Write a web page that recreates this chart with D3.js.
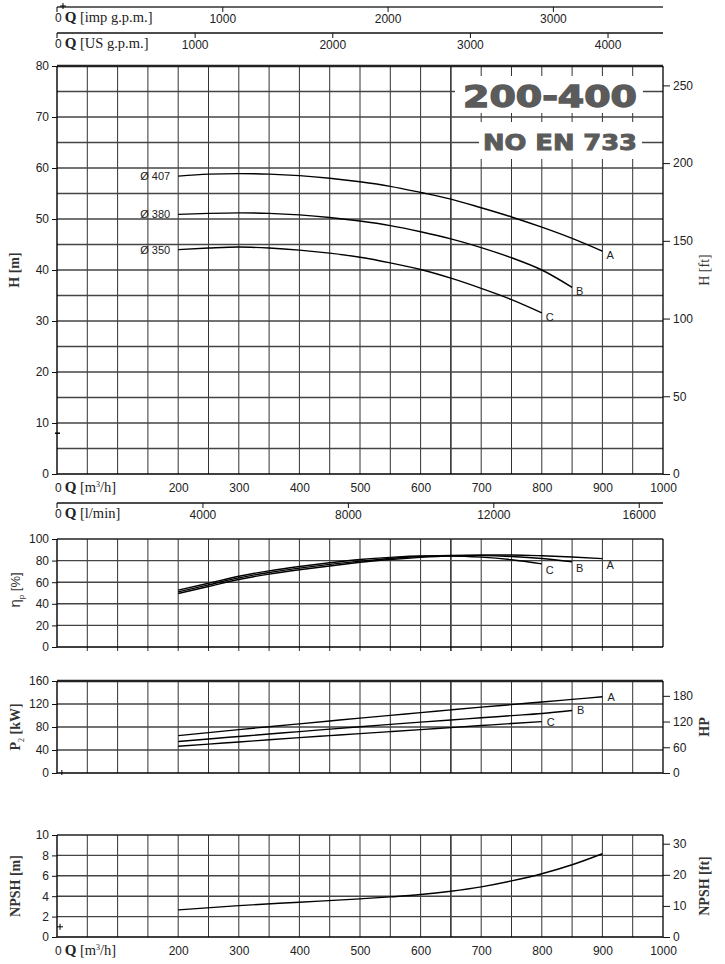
<!DOCTYPE html>
<html><head><meta charset="utf-8">
<script src="https://cdn.jsdelivr.net/npm/d3@7"></script>
<style>
body{margin:0;background:#fff}
svg{display:block}
text{font-family:"Liberation Sans",Arial,sans-serif}
.serif{font-family:"Liberation Serif","DejaVu Serif",serif}
</style>
</head><body>
<svg id="c" width="725" height="964"></svg>
<script>
// ---------------- data ----------------
const flowTickLabels = [200,300,400,500,600,700,800,900,1000];
const impTicks = [1000,2000,3000];
const usTicks = [1000,2000,3000,4000];
const lminTicks = [4000,8000,12000,16000];
const hTicks = [0,10,20,30,40,50,60,70,80];
const hFtTicks = [0,50,100,150,200,250];
const effTicks = [0,20,40,60,80,100];
const pTicks = [0,40,80,120,160];
const hpTicks = [0,60,120,180];
const npshTicks = [0,2,4,6,8,10];
const npshFtTicks = [0,10,20,30];

const curveNames = ["A","B","C"];
const impellers = ["Ø 407","Ø 380","Ø 350"];

const qA = [200,250,300,350,400,450,500,550,600,650,700,750,800,850,900];
const qB = [200,250,300,350,400,450,500,550,600,650,700,750,800,850];
const qC = [200,250,300,350,400,450,500,550,600,650,700,750,800];

const headA = [58.4,58.8,58.9,58.8,58.5,58.0,57.3,56.4,55.2,53.9,52.2,50.4,48.4,46.2,43.7];
const headB = [50.9,51.1,51.2,51.1,50.8,50.3,49.6,48.7,47.5,46.1,44.4,42.4,40.0,36.6];
const headC = [44.0,44.3,44.5,44.3,43.9,43.3,42.5,41.4,40.1,38.4,36.4,34.2,31.6];

const effA = [49.5,56,62.5,67.5,71.5,75,78.5,81,83,84.5,85.2,85.2,84.5,83.3,81.8];
const effB = [51,57.5,64,69,73,76.5,79.5,82,83.8,84.7,84.6,83.8,82,78.8];
const effC = [52.7,59,65.5,70.5,74.5,78,81,83,84.2,84.3,83.2,80.8,77];

const powA = [65,70.3,75.5,80.5,85.5,90.5,95.5,100.3,105,109.8,114.5,119,123.5,128,132.5];
const powB = [54.8,59.2,63.5,67.8,72,76.3,80.5,84.5,88.5,92.3,96,99.8,103.5,108.7];
const powC = [46.5,50.3,54,57.8,61.5,65,68.5,72,75.5,79,82.5,86,89.4];

const qN = [200,300,400,500,550,600,650,700,750,800,850,900];
const npsh = [2.66,3.08,3.41,3.74,3.93,4.16,4.49,4.92,5.5,6.2,7.08,8.16];

// unit conversions for secondary axes
const M_TO_FT = 3.2808, KW_PER_HP = 0.7457, IMP_GPM = 3.6662, US_GPM = 4.4029, L_MIN = 16.6667;

// ---------------- scales ----------------
const svg = d3.select("#c");
const X0 = 57, X1 = 663;
const x = d3.scaleLinear().domain([0,1000]).range([X0,X1]);
const xImp = d3.scaleLinear().domain([0,1000*IMP_GPM]).range([X0,X1]);
const xUS = d3.scaleLinear().domain([0,1000*US_GPM]).range([X0,X1]);
const xL = d3.scaleLinear().domain([0,1000*L_MIN]).range([X0,X1]);

const yH = d3.scaleLinear().domain([0,80]).range([474,66]);
const yHft = d3.scaleLinear().domain([0,80*M_TO_FT]).range([474,66]);
const yE = d3.scaleLinear().domain([0,100]).range([647,539]);
const yP = d3.scaleLinear().domain([0,160]).range([773,681]);
const yHP = d3.scaleLinear().domain([0,160/KW_PER_HP]).range([773,681]);
const yN = d3.scaleLinear().domain([0,10]).range([937,835]);
const yNft = d3.scaleLinear().domain([0,10*M_TO_FT]).range([937,835]);

svg.append("rect").attr("width",725).attr("height",964).attr("fill","#fff");

// ---------------- helpers ----------------
function styleAxis(g, fs){
  g.select(".domain").remove();
  g.selectAll(".tick line").attr("stroke","#111").attr("stroke-width",1);
  g.selectAll(".tick text").attr("fill","#222").style("font-size",(fs||12)+"px")
    .style("font-family","'Liberation Sans',Arial,sans-serif");
}

function panel(y, gridVals, opts){
  const g = svg.append("g");
  const [yb, yt] = y.range();
  const ext = opts.ext || 0;
  g.selectAll("line.v").data(d3.range(50,1000,50)).join("line")
    .attr("x1",d=>x(d)).attr("x2",d=>x(d))
    .attr("y1",yt).attr("y2",yb+ext)
    .attr("stroke",d=>d===650?"#000":"#333").attr("stroke-width",d=>d===650?1.3:1);
  const inner = gridVals.filter(v=>v>y.domain()[0] && v<y.domain()[1]);
  g.selectAll("line.h").data(inner).join("line")
    .attr("x1",X0).attr("x2",X1).attr("y1",d=>y(d)).attr("y2",d=>y(d))
    .attr("stroke","#444").attr("stroke-width",1.4);
  g.append("line").attr("x1",X0).attr("x2",X1).attr("y1",yt).attr("y2",yt)
    .attr("stroke","#222").attr("stroke-width",opts.thickTop?2.4:1.4);
  g.append("line").attr("x1",X0).attr("x2",X1).attr("y1",yb).attr("y2",yb)
    .attr("stroke","#000").attr("stroke-width",1.5);
  g.append("line").attr("x1",X0).attr("x2",X0).attr("y1",yt).attr("y2",yb)
    .attr("stroke","#000").attr("stroke-width",1.4);
  g.append("line").attr("x1",X1).attr("x2",X1).attr("y1",yt).attr("y2",yb)
    .attr("stroke","#000").attr("stroke-width",1.3);
  const la = svg.append("g").attr("transform",`translate(${X0},0)`)
    .call(d3.axisLeft(y).tickValues(opts.left).tickSize(5).tickPadding(3).tickFormat(d3.format("d")));
  styleAxis(la);
  if(opts.right){
    const ra = svg.append("g").attr("transform",`translate(${X1},0)`)
      .call(d3.axisRight(opts.right.scale).tickValues(opts.right.ticks).tickSize(7).tickPadding(3).tickFormat(d3.format("d")));
    styleAxis(ra);
  }
  return g;
}

function drawCurve(qs, vals, y){
  const pts = qs.map((q,i)=>[q,vals[i]]);
  svg.append("path").datum(pts)
    .attr("d", d3.line().x(d=>x(d[0])).y(d=>y(d[1])).curve(d3.curveMonotoneX))
    .attr("fill","none").attr("stroke","#000").attr("stroke-width",1.4);
  return pts[pts.length-1];
}

function endLabel(pt, y, name, dx, dy){
  svg.append("text").attr("x",x(pt[0])+dx).attr("y",y(pt[1])+dy)
    .attr("fill","#222").style("font-size","11px").text(name);
}

function rotLabel(xp, yp, parts){
  const t = svg.append("text").attr("transform",`translate(${xp},${yp}) rotate(-90)`)
    .attr("text-anchor","middle").attr("fill","#333");
  parts.forEach(p=>{
    const s = t.append("tspan").text(p.t);
    if(p.serif) s.attr("class","serif");
    s.style("font-size",(p.fs||13)+"px").style("font-weight",p.b?"bold":"normal");
    if(p.dy) s.attr("dy",p.dy);
  });
  return t;
}

function qTitle(xp, yp, unitParts){
  const t = svg.append("text").attr("x",xp).attr("y",yp).attr("fill","#222");
  t.append("tspan").text("0").style("font-size","12px");
  t.append("tspan").attr("class","serif").attr("dx",3).text("Q").style("font-size","15px").style("font-weight","bold");
  unitParts.forEach(p=>{
    const s = t.append("tspan").attr("class","serif").text(p.t).style("font-size",(p.fs||14.5)+"px");
    if(p.dy) s.attr("dy",p.dy);
  });
}

// ---------------- H panel ----------------
panel(yH, d3.range(0,81,5), {left:hTicks, right:{scale:yHft, ticks:hFtTicks}, thickTop:true});
svg.append("line").attr("x1",X0-2).attr("x2",X0+3).attr("y1",yH(8)).attr("y2",yH(8)).attr("stroke","#000").attr("stroke-width",1.5);

const headSeries = [[qA,headA],[qB,headB],[qC,headC]];
headSeries.forEach((s,i)=>{
  const end = drawCurve(s[0], s[1], yH);
  endLabel(end, yH, curveNames[i], 4, 8);
  svg.append("text").attr("x",x(s[0][0])-38).attr("y",yH(s[1][0])+4)
    .attr("fill","#222").style("font-size","11px").text(impellers[i]);
});

// title boxes
svg.append("rect").attr("x",455).attr("y",76).attr("width",188).attr("height",37).attr("fill","#fff");
svg.append("rect").attr("x",479).attr("y",122).attr("width",163).attr("height",37).attr("fill","#fff");
svg.append("text").attr("x",550).attr("y",107).attr("text-anchor","middle")
  .attr("textLength",174).attr("lengthAdjust","spacingAndGlyphs")
  .style("font-family","'DejaVu Sans',sans-serif").style("font-weight","bold").style("font-size","30px")
  .attr("fill","#5b5b5b").attr("stroke","#5b5b5b").attr("stroke-width",1.4).text("200-400");
svg.append("text").attr("x",560).attr("y",150).attr("text-anchor","middle")
  .attr("textLength",154).attr("lengthAdjust","spacingAndGlyphs")
  .style("font-family","'DejaVu Sans',sans-serif").style("font-weight","bold").style("font-size","22px")
  .attr("fill","#5b5b5b").attr("stroke","#5b5b5b").attr("stroke-width",1).text("NO EN 733");

// flow axes
function flowAxis(scale, ticks, yPos, color, w){
  svg.append("line").attr("x1",X0).attr("x2",X1).attr("y1",yPos).attr("y2",yPos)
    .attr("stroke",color).attr("stroke-width",w);
  svg.append("line").attr("x1",X0).attr("x2",X0).attr("y1",yPos).attr("y2",yPos+5)
    .attr("stroke","#000").attr("stroke-width",1);
  const a = svg.append("g").attr("transform",`translate(0,${yPos})`)
    .call(d3.axisBottom(scale).tickValues(ticks).tickSize(5).tickPadding(2).tickFormat(d3.format("d")));
  styleAxis(a);
}
flowAxis(xImp, impTicks, 7, "#666", 2.2);
flowAxis(xUS, usTicks, 33, "#111", 1.4);
qTitle(55, 22, [{t:" [imp g.p.m.]"}]);
qTitle(55, 48, [{t:" [US g.p.m.]"}]);
svg.append("path").attr("d",`M${X0+3},6h6M${X0+6},3v6`).attr("stroke","#000").attr("stroke-width",1);

const bH = svg.append("g").attr("transform",`translate(0,474)`)
  .call(d3.axisBottom(x).tickValues(flowTickLabels).tickSize(0).tickPadding(9).tickFormat(d3.format("d")));
styleAxis(bH);
qTitle(55, 492, [{t:" [m"},{t:"3",fs:8,dy:-5},{t:"/h]",dy:5}]);
flowAxis(xL, lminTicks, 503, "#111", 1.4);
qTitle(55, 518, [{t:" [l/min]"}]);

rotLabel(19, 270, [{t:"H [m]",serif:true,b:true,fs:14}]);
rotLabel(709, 270, [{t:"H [ft]",serif:true,fs:14}]);

// ---------------- efficiency panel ----------------
panel(yE, effTicks, {left:effTicks, ext:4});
const effSeries = [[qA,effA],[qB,effB],[qC,effC]];
effSeries.forEach((s,i)=>{
  const end = drawCurve(s[0], s[1], yE);
  endLabel(end, yE, curveNames[i], 4, 10);
});
rotLabel(20, 590, [{t:"η",fs:15},{t:"p",fs:8,dy:4},{t:" [%]",fs:13,dy:-4}]);

// ---------------- power panel ----------------
panel(yP, pTicks, {left:pTicks, right:{scale:yHP, ticks:hpTicks}, thickTop:true});
const powSeries = [[qA,powA],[qB,powB],[qC,powC]];
powSeries.forEach((s,i)=>{
  const end = drawCurve(s[0], s[1], yP);
  endLabel(end, yP, curveNames[i], 5, 4);
});
svg.append("line").attr("x1",x(8)).attr("x2",x(8)).attr("y1",yP(0)-3).attr("y2",yP(0)+2).attr("stroke","#000");
rotLabel(20, 727, [{t:"P",serif:true,b:true,fs:14},{t:"2",serif:true,fs:8,dy:4},{t:" [kW]",serif:true,b:true,fs:14,dy:-4}]);
rotLabel(709, 727, [{t:"HP",serif:true,b:true,fs:14}]);

// ---------------- NPSH panel ----------------
panel(yN, npshTicks, {left:npshTicks, right:{scale:yNft, ticks:npshFtTicks}});
drawCurve(qN, npsh, yN);
svg.append("path").attr("d",`M${x(5)-3},${yN(1)}h6M${x(5)},${yN(1)-3}v6`).attr("stroke","#000").attr("stroke-width",1);
const bN = svg.append("g").attr("transform",`translate(0,937)`)
  .call(d3.axisBottom(x).tickValues(flowTickLabels).tickSize(0).tickPadding(9).tickFormat(d3.format("d")));
styleAxis(bN);
qTitle(55, 955, [{t:" [m"},{t:"3",fs:8,dy:-5},{t:"/h]",dy:5}]);
rotLabel(20, 886, [{t:"NPSH [m]",serif:true,b:true,fs:14}]);
rotLabel(709, 886, [{t:"NPSH [ft]",serif:true,b:true,fs:14}]);
</script>
</body></html>
